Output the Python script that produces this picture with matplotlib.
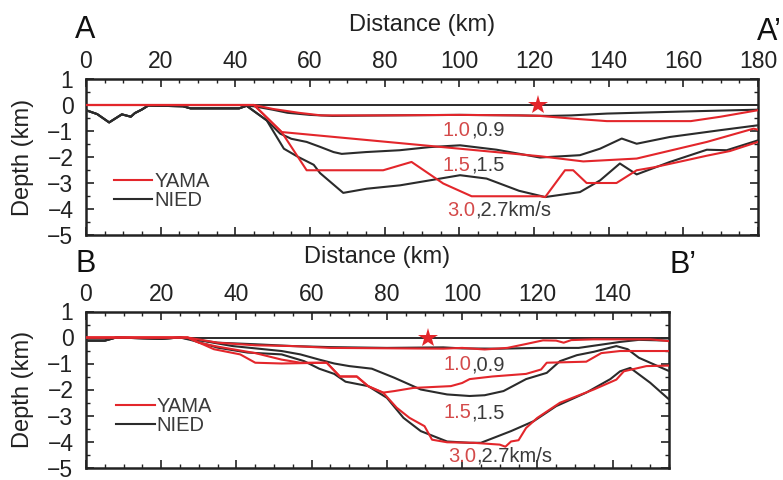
import matplotlib
matplotlib.use("Agg")
import matplotlib.pyplot as plt
from matplotlib.ticker import MultipleLocator
from matplotlib.lines import Line2D

plt.rcParams['font.family'] = ['Liberation Sans', 'DejaVu Sans']

RED = '#e3262b'
BLACK = '#2b2b2b'
RED_TXT = '#d44a4a'
DARK_TXT = '#3a3a3a'

# ---------------- Profile A-A' ----------------
a_xlim = (0, 180)
a_star_x = 121
a_nied_09_x = [0, 3, 6.2, 9.6, 12, 13.1, 14.9, 16.7, 20, 26, 28, 41, 43, 45, 50, 54, 60, 66, 80, 100, 116, 124, 130, 139.5, 160, 180]
a_nied_09_y = [-0.2, -0.35, -0.67, -0.36, -0.45, -0.31, -0.18, -0.02, -0.03, -0.05, -0.13, -0.13, -0.03, -0.05, -0.18, -0.3, -0.38, -0.42, -0.4, -0.38, -0.4, -0.42, -0.4, -0.33, -0.25, -0.18]
a_nied_15_x = [0, 3, 6.2, 9.6, 12, 13.1, 14.9, 16.7, 20, 26, 28, 41, 43, 48.4, 52, 55, 59.1, 62.7, 66.3, 68.5, 75, 84, 92, 100.2, 110, 121.6, 132.3, 137.7, 143.5, 147.5, 156.4, 169.8, 180]
a_nied_15_y = [-0.2, -0.35, -0.67, -0.36, -0.45, -0.31, -0.18, -0.02, -0.03, -0.05, -0.13, -0.13, -0.03, -0.59, -1.1, -1.3, -1.42, -1.61, -1.81, -1.88, -1.81, -1.74, -1.62, -1.55, -1.72, -2.02, -1.93, -1.68, -1.29, -1.49, -1.23, -0.97, -0.78]
a_nied_27_x = [0, 3, 6.2, 9.6, 12, 13.1, 14.9, 16.7, 20, 26, 28, 41, 43, 48.4, 53, 56.6, 61, 62.7, 68.9, 75.2, 84.1, 92, 100.2, 107.3, 116, 123, 132.3, 137.7, 143, 147.5, 156.4, 166.3, 171.6, 180]
a_nied_27_y = [-0.2, -0.35, -0.67, -0.36, -0.45, -0.31, -0.18, -0.02, -0.03, -0.05, -0.13, -0.13, -0.03, -0.59, -1.68, -1.98, -2.3, -2.62, -3.38, -3.22, -3.09, -2.9, -2.7, -2.83, -3.3, -3.54, -3.35, -2.9, -2.25, -2.67, -2.19, -1.72, -1.74, -1.36]
a_yama_10_x = [0, 45, 50, 57, 63, 80, 100, 116, 121.6, 130, 139.5, 162, 170, 180]
a_yama_10_y = [0, 0, -0.15, -0.3, -0.4, -0.4, -0.38, -0.4, -0.42, -0.52, -0.62, -0.62, -0.45, -0.2]
a_yama_15_x = [0, 45, 52.4, 121.6, 133.2, 147.5, 166.3, 178.8, 180]
a_yama_15_y = [0, 0, -1.04, -1.97, -2.17, -2.06, -1.42, -0.91, -0.95]
a_yama_30_x = [0, 45, 52.4, 59.1, 79.6, 87.2, 95.7, 103.3, 121.6, 123, 128.3, 130.5, 134.1, 142.1, 147.5, 152, 160, 166.3, 172.5, 180]
a_yama_30_y = [0, 0, -1.04, -2.51, -2.51, -2.19, -3.02, -3.51, -3.51, -3.54, -2.51, -2.51, -3.0, -3.0, -2.51, -2.4, -2.15, -1.95, -1.77, -1.42]

# ---------------- Profile B-B' ----------------
b_xlim = (0, 155)
b_star_x = 91
b_nied_09_x = [0, 5, 8, 15, 20, 25, 35, 45, 55, 65, 80, 95, 100, 110, 120, 131, 142, 147, 155]
b_nied_09_y = [-0.12, -0.12, 0, -0.03, -0.05, 0, -0.2, -0.26, -0.33, -0.37, -0.4, -0.38, -0.42, -0.43, -0.4, -0.4, -0.17, -0.09, -0.12]
b_nied_15_x = [0, 5, 8, 15, 20, 25, 28, 39, 52, 57, 62, 66, 70, 76, 82, 89, 96, 102, 106, 111, 117, 122.5, 126, 130.5, 135, 141, 144, 147, 155]
b_nied_15_y = [-0.12, -0.12, 0, -0.03, -0.05, 0, -0.05, -0.33, -0.52, -0.65, -0.85, -1.0, -1.1, -1.2, -1.55, -2.0, -2.19, -2.25, -2.22, -2.06, -1.6, -1.36, -0.91, -0.68, -0.55, -0.33, -0.45, -0.78, -1.29]
b_nied_27_x = [0, 5, 8, 15, 20, 25, 28, 35, 43, 52, 58, 62, 66, 69, 75, 80, 84.4, 89, 96, 102, 105, 113, 119, 125, 133, 139.4, 142, 144.7, 150, 155]
b_nied_27_y = [-0.12, -0.12, 0, -0.03, -0.05, 0, -0.1, -0.39, -0.58, -0.65, -0.91, -1.2, -1.4, -1.7, -1.87, -2.32, -3.09, -3.6, -4.0, -4.05, -4.05, -3.6, -3.22, -2.64, -2.12, -1.6, -1.3, -1.17, -1.74, -2.38]
b_yama_10_x = [0, 27, 35, 45, 55, 65, 95, 100, 106, 112, 117, 121.5, 125, 127, 129, 135, 150, 155]
b_yama_10_y = [0, 0, -0.2, -0.3, -0.33, -0.4, -0.43, -0.4, -0.46, -0.4, -0.25, -0.11, -0.12, -0.2, -0.1, -0.07, -0.07, -0.14]
b_yama_15_x = [0, 27, 30, 35, 45, 52, 57, 64, 67.5, 72, 75, 77, 79, 82, 87, 97, 100, 102, 108, 117, 121, 122.5, 133, 137, 142, 155]
b_yama_15_y = [0, 0, -0.2, -0.35, -0.6, -0.85, -0.97, -0.97, -1.5, -1.5, -1.87, -2.0, -2.12, -2.06, -1.94, -1.87, -1.75, -1.6, -1.5, -1.4, -1.23, -0.97, -0.93, -0.6, -0.52, -0.52]
b_yama_30_x = [0, 27, 34, 41, 45, 52, 64, 67.5, 72, 75, 79, 82.6, 86, 90, 92, 96, 103, 110, 111.5, 113, 115, 117, 120, 126, 135, 141, 143, 149, 155]
b_yama_30_y = [0, 0, -0.45, -0.65, -0.97, -1.0, -0.97, -1.5, -1.5, -1.87, -2.12, -2.7, -3.09, -3.41, -3.93, -4.03, -4.05, -4.12, -4.2, -4.0, -3.95, -3.48, -3.09, -2.51, -2.0, -1.62, -1.3, -1.1, -1.08]

# velocity labels: (YAMA value, NIED value)
layer_labels = [("1.0", ",0.9"), ("1.5", ",1.5"), ("3.0", ",2.7km/s")]
legend_names = ["YAMA", "NIED"]

TICK_FS = 16.5
LABEL_FS = 17
LINE_W = 1.5


def style_axes(ax, xlim):
    ax.set_xlim(*xlim)
    ax.set_ylim(-5, 1)
    ax.xaxis.set_major_locator(MultipleLocator(20))
    ax.xaxis.set_minor_locator(MultipleLocator(5))
    ax.yaxis.set_major_locator(MultipleLocator(1))
    ax.yaxis.set_minor_locator(MultipleLocator(0.5))
    ax.xaxis.set_ticks_position('both')
    ax.yaxis.set_ticks_position('both')
    ax.tick_params(which='both', direction='in', labeltop=True, labelbottom=False,
                   colors='#222222', labelsize=TICK_FS)
    ax.tick_params(axis='x', which='major', length=6, width=1.2, pad=4)
    ax.tick_params(axis='y', which='major', length=6, width=1.2, pad=9)
    ax.tick_params(which='minor', length=3, width=1.0)
    for sp in ax.spines.values():
        sp.set_linewidth(1.8)
        sp.set_color('#222222')
    ax.xaxis.set_label_position('top')
    ax.set_xlabel("Distance (km)", fontsize=LABEL_FS, labelpad=14, color='#222222')
    ax.set_ylabel("Depth (km)", fontsize=LABEL_FS, labelpad=9.5, color='#222222')


def draw_profile(ax, xlim, nied, yama, star_x, label_pos, legend_anchor):
    style_axes(ax, xlim)
    ax.axhline(0, color=BLACK, lw=1.4, zorder=2)
    for xs, ys in nied:
        ax.plot(xs, ys, color=BLACK, lw=LINE_W, zorder=3)
    for xs, ys in yama:
        ax.plot(xs, ys, color=RED, lw=LINE_W, zorder=4)
    ax.plot([star_x], [0], marker='*', color=RED, markersize=15, zorder=6,
            markeredgewidth=0)
    for (yv, nv), (lx, ly) in zip(layer_labels, label_pos):
        t = ax.text(lx, ly, yv, color=RED_TXT, fontsize=14.5, va='center', ha='left', zorder=7)
        ax.annotate(nv, xy=(1, 0.5), xycoords=t, va='center', ha='left',
                    color=DARK_TXT, fontsize=14.5, zorder=7)
    handles = [Line2D([], [], color=RED, lw=LINE_W), Line2D([], [], color=BLACK, lw=LINE_W)]
    leg = ax.legend(handles, legend_names, loc='center left', bbox_to_anchor=legend_anchor,
                    frameon=False, fontsize=14.5, handlelength=1.9, handletextpad=0.1,
                    labelspacing=0.0, borderpad=0, borderaxespad=0)
    for txt in leg.get_texts():
        txt.set_color(DARK_TXT)


fig = plt.figure(figsize=(7.83, 4.80), dpi=100)
ax_a = fig.add_axes([86 / 783, 1 - 235 / 480, 672 / 783, 156 / 480])
ax_b = fig.add_axes([86 / 783, 1 - 467.5 / 480, 583 / 783, 156 / 480])

draw_profile(ax_a, a_xlim,
             [(a_nied_09_x, a_nied_09_y), (a_nied_15_x, a_nied_15_y), (a_nied_27_x, a_nied_27_y)],
             [(a_yama_10_x, a_yama_10_y), (a_yama_15_x, a_yama_15_y), (a_yama_30_x, a_yama_30_y)],
             a_star_x,
             [(95.6, -0.97), (95.6, -2.32), (96.8, -4.05)],
             (0.042, 0.28))

draw_profile(ax_b, b_xlim,
             [(b_nied_09_x, b_nied_09_y), (b_nied_15_x, b_nied_15_y), (b_nied_27_x, b_nied_27_y)],
             [(b_yama_10_x, b_yama_10_y), (b_yama_15_x, b_yama_15_y), (b_yama_30_x, b_yama_30_y)],
             b_star_x,
             [(95, -1.04), (95, -2.9), (96.4, -4.56)],
             (0.052, 0.33))

# section end labels
fig.text(75 / 783, 1 - 30 / 480, "A", fontsize=22, va='center', ha='left', color='#111111')
fig.text(782 / 783, 1 - 32 / 480, "A\u2019", fontsize=22, va='center', ha='right', color='#111111')
fig.text(75 / 783, 1 - 264 / 480, "B", fontsize=22, va='center', ha='left', color='#111111')
fig.text(670 / 783, 1 - 265 / 480, "B\u2019", fontsize=22, va='center', ha='left', color='#111111')

fig.savefig("out.png", dpi=100, facecolor='white')
